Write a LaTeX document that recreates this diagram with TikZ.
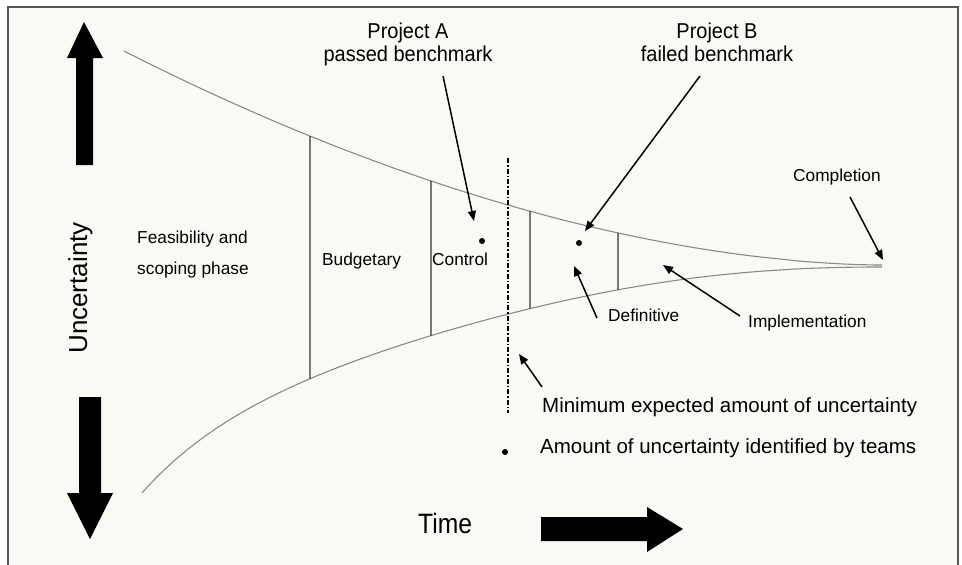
\documentclass[tikz,border=0pt]{standalone}
\usepackage{fontspec}
\setmainfont{Liberation Sans}
\newfontfamily\titlefont[FakeStretch=0.93]{Liberation Sans}
\newfontfamily\timefont[FakeStretch=0.88]{Liberation Sans}
\usetikzlibrary{arrows.meta,intersections}
\definecolor{paper}{HTML}{F8FBF4}
\definecolor{framegray}{HTML}{555555}
\definecolor{curvegray}{HTML}{8A8A8A}
\definecolor{phasegray}{HTML}{333333}
\tikzset{
  phaselabel/.style={inner sep=0pt, anchor=base west, font=\fontsize{17.3}{20}\selectfont},
  legendlabel/.style={inner sep=0pt, anchor=base west, font=\fontsize{20.5}{24}\selectfont},
  titlelabel/.style={inner sep=0pt, anchor=base, font=\titlefont\fontsize{21.5}{24}\selectfont},
  pointer/.style={line width=1.5pt, -{Triangle[length=10pt,width=8pt]}},
  funnel/.style={draw=curvegray, line width=1.1pt},
  divider/.style={draw=phasegray, line width=1.3pt},
  minline/.style={line width=1.3pt, dash pattern=on 5pt off 2pt on 1.5pt off 2pt},
  bigarrow/.style={fill=black},
  teamdot/.style={circle, fill=black, inner sep=0pt, minimum size=6pt},
}
\begin{document}
\begin{tikzpicture}[x=1pt,y=-1pt]
\useasboundingbox (0,0) rectangle (962,565);
\clip (0,0) rectangle (962,565);
\fill[white] (0,0) rectangle (962,565);
\filldraw[fill=paper, draw=framegray, line width=2.5pt] (8,7) rectangle (958,580);

% the funnel of shrinking uncertainty
\draw[funnel, name path=upper] plot[domain=124:882, samples=160, smooth]
  (\x, {265 - 214*pow(max(0.00001, 1-(\x-124)/758), 1.8)});
\draw[funnel, name path=lower] plot[domain=142:882, samples=160, smooth]
  (\x, {267 + 226*pow(max(0.00001, 1-(\x-142)/740),
        2.2 + 1.5*pow(max(0.00001, 1-(\x-142)/740), 4))});

% phase boundaries, running from curve to curve
\foreach \x/\n in {310/b,431/c,530/d,618/e} {
  \path[name path=v\n] (\x,0) -- (\x,565);
  \path[name intersections={of=upper and v\n, by={t\n}}];
  \path[name intersections={of=lower and v\n, by={b\n}}];
  \draw[divider] (t\n) -- (b\n);
}

% minimum expected uncertainty
\coordinate (mtop) at (508,158);
\coordinate (mbot) at (508,413);
\draw[minline] (mtop) -- (mbot);

% team estimates
\node[teamdot] (dA) at (482,241) {};
\node[teamdot] (dB) at (579,243) {};
\node[teamdot] (dL) at (505,452) {};

% axis arrows
\fill[bigarrow] (76,165) -- (76,58) -- (67,58) -- (84,22) -- (103,58) -- (93,58) -- (93,165) -- cycle;
\fill[bigarrow] (79,397) -- (101,397) -- (101,493) -- (113,493) -- (90,539) -- (67,493) -- (79,493) -- cycle;
\fill[bigarrow] (541,517) -- (647,517) -- (647,507) -- (683,529) -- (647,552) -- (647,541) -- (541,541) -- cycle;

\node[rotate=90, anchor=base, inner sep=0pt, font=\fontsize{26}{30}\selectfont] (unc) at (87,288) {Uncertainty};
\node[inner sep=0pt, anchor=base west, font=\timefont\fontsize{28}{30}\selectfont] (time) at (418,533) {Time};

% phases
\node[phaselabel] (feas1) at (137,243) {Feasibility and};
\node[phaselabel] (feas2) at (137,274) {scoping phase};
\node[phaselabel] (budg) at (322,265) {Budgetary};
\node[phaselabel] (ctrl) at (432,265) {Control};
\node[phaselabel] (defi) at (608,321) {Definitive};
\node[phaselabel] (impl) at (748,327) {Implementation};
\node[phaselabel] (comp) at (793,181) {Completion};

% projects
\node[titlelabel] (pA1) at (408,38) {Project A};
\node[titlelabel] (pA2) at (408,61) {passed benchmark};
\node[titlelabel] (pB1) at (717,38) {Project B};
\node[titlelabel] (pB2) at (717,61) {failed benchmark};

% legend
\node[legendlabel] (lmin) at (542,412) {Minimum expected amount of uncertainty};
\node[legendlabel] (lamt) at (540,453) {Amount of uncertainty identified by teams};

% pointers
\coordinate (aA0) at (443,76);  \coordinate (aA1) at (474,221);
\coordinate (aB0) at (700,76);  \coordinate (aB1) at (585,231);
\coordinate (aC0) at (850,197); \coordinate (aC1) at (883,260);
\coordinate (aI0) at (740,316); \coordinate (aI1) at (663,265);
\coordinate (aD0) at (597,318); \coordinate (aD1) at (574,266);
\coordinate (aM0) at (542,387); \coordinate (aM1) at (519,354);
\draw[pointer] (aA0) -- (aA1);
\draw[pointer] (aB0) -- (aB1);
\draw[pointer] (aC0) -- (aC1);
\draw[pointer] (aI0) -- (aI1);
\draw[pointer] (aD0) -- (aD1);
\draw[pointer] (aM0) -- (aM1);
\end{tikzpicture}
\end{document}
